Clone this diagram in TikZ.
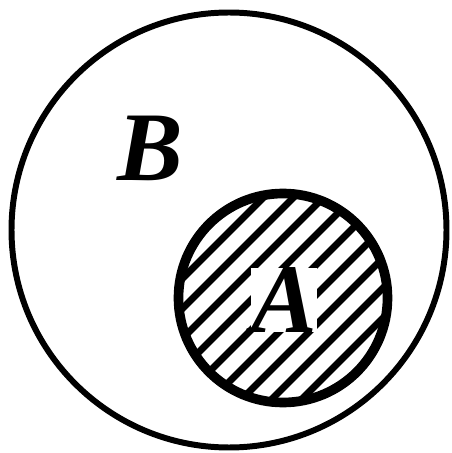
\documentclass[tikz,border=0pt]{standalone}
\usepackage{fontspec}
\setmainfont{Liberation Serif}
\usetikzlibrary{positioning}
\tikzset{
  setline/.style={draw=black, line width=3.4pt},
  subsetline/.style={draw=black, line width=5.5pt},
  hatchline/.style={draw=black, line width=4pt},
  setlabel/.style={font=\fontsize{56}{60}\selectfont\bfseries\itshape, inner sep=1pt}
}

\begin{document}
\begin{tikzpicture}
  \useasboundingbox (0,0) rectangle (9.04,9.06);
  \coordinate (cB) at (4.58,4.46);
  \coordinate (cA) at (5.66,3.10);

  % hatching of A
  \begin{scope}
    \clip (cA) circle (2.09cm);
    \foreach \k in {-6,...,6} {
      \pgfmathsetmacro{\c}{-2.56+0.6*\k}
      \draw[hatchline] (3.2,3.2+\c) -- (8.2,8.2+\c);
    }
  \end{scope}

  \draw[setline] (cB) circle (4.35cm);
  \draw[subsetline] (cA) circle (2.09cm);

  \node[setlabel] (labB) at (3.0,6.1) {B};
  \node[setlabel, fill=white, inner sep=0pt] (labA) at (5.68,3.06) {A};
\end{tikzpicture}
\end{document}
